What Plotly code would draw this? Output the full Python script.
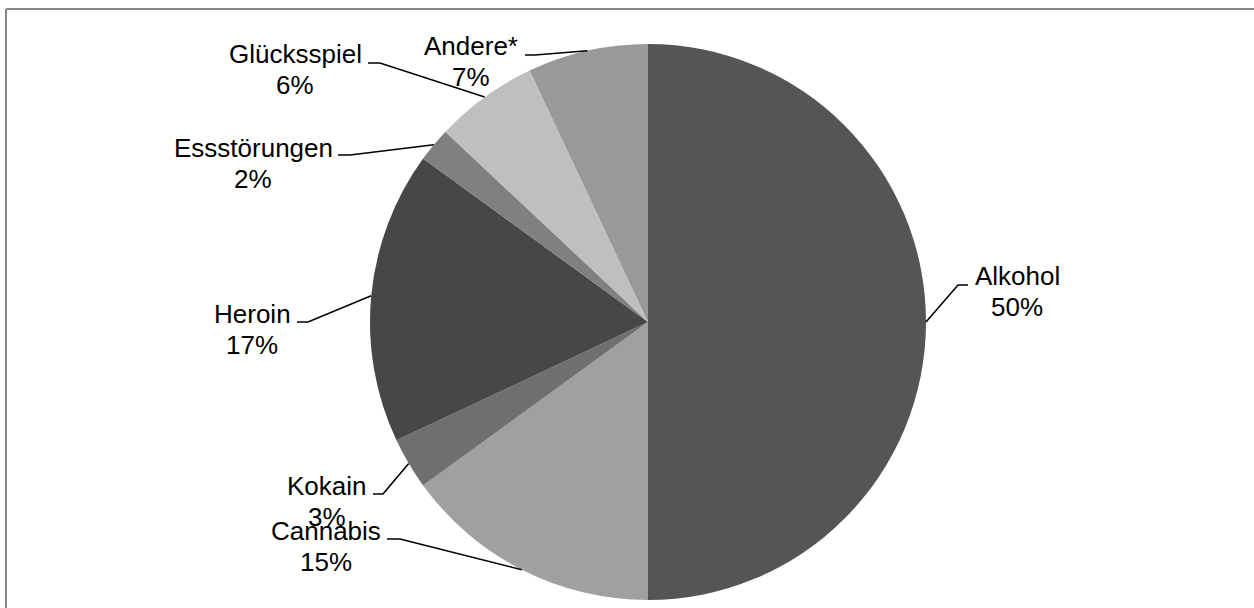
import math
import plotly.graph_objects as go

# ---- data ----
categories = ["Alkohol", "Cannabis", "Kokain", "Heroin", "Essstörungen", "Glücksspiel", "Andere*"]
shares = [50, 15, 3, 17, 2, 6, 7]
colors = ["#555555", "#a0a0a0", "#6f6f6f", "#474747", "#808080", "#bfbfbf", "#999999"]

# ---- layout constants (pixels) ----
W, H = 1254, 608
CX, CY, R = 648, 322, 278
FONT = "Arial, Liberation Sans, sans-serif"
FS = 26

# label text centre x, first-line baseline, and leader elbow (start x, elbow x, y)
label_layout = {
    "Alkohol":      dict(cx=1017, b=285, hx0=968, hx1=958, hy=285),
    "Cannabis":     dict(cx=326, b=540, hx0=387, hx1=400, hy=539),
    "Kokain":       dict(cx=327, b=495, hx0=373, hx1=383, hy=494),
    "Heroin":       dict(cx=252, b=323, hx0=297, hx1=308, hy=322),
    "Essstörungen": dict(cx=253, b=157, hx0=338, hx1=350, hy=155),
    "Glücksspiel":  dict(cx=295, b=63, hx0=368, hx1=380, hy=63),
    "Andere*":      dict(cx=471, b=55, hx0=525, hx1=535, hy=55),
}
LINE_GAP = 31

fig = go.Figure()
fig.add_trace(go.Pie(
    labels=categories, values=shares, sort=False, direction="clockwise", rotation=0,
    marker=dict(colors=colors, line=dict(width=0)),
    textinfo="none", hoverinfo="label+percent", showlegend=False,
    domain=dict(x=[(CX - R) / W, (CX + R) / W], y=[(H - CY - R) / H, (H - CY + R) / H]),
))

# invisible pixel axes for labels and leader lines
fig.update_xaxes(range=[0, W], visible=False, fixedrange=True)
fig.update_yaxes(range=[H, 0], visible=False, fixedrange=True)

total = sum(shares)
cum = 0
shapes = []
annotations = []
for cat, v in zip(categories, shares):
    mid = (cum + v / 2) / total * 2 * math.pi
    cum += v
    ex = CX + R * math.sin(mid)
    ey = CY - R * math.cos(mid)
    L = label_layout[cat]
    shapes.append(dict(type="path", xref="x", yref="y",
                       path=f"M {L['hx0']},{L['hy']} L {L['hx1']},{L['hy']} L {ex:.1f},{ey:.1f}",
                       line=dict(color="black", width=1.6)))
    for i, txt in enumerate([cat, f"{round(v / total * 100)}%"]):
        base = L["b"] + i * LINE_GAP
        annotations.append(dict(x=L["cx"], y=base - 0.36 * FS, xref="x", yref="y",
                                text=txt, showarrow=False, xanchor="center", yanchor="middle",
                                font=dict(family=FONT, size=FS, color="black")))

# outer chart border (top and left visible)
shapes.append(dict(type="line", xref="paper", yref="paper", x0=6 / W, x1=1.01,
                   y0=1 - 9 / H, y1=1 - 9 / H, line=dict(color="#878787", width=2)))
shapes.append(dict(type="line", xref="paper", yref="paper", x0=6 / W, x1=6 / W,
                   y0=-0.01, y1=1 - 9 / H, line=dict(color="#878787", width=2)))

fig.update_layout(
    width=W, height=H, margin=dict(l=0, r=0, t=0, b=0),
    paper_bgcolor="white", plot_bgcolor="rgba(0,0,0,0)",
    shapes=shapes, annotations=annotations,
    font=dict(family=FONT),
)

fig.write_html("out.html")
